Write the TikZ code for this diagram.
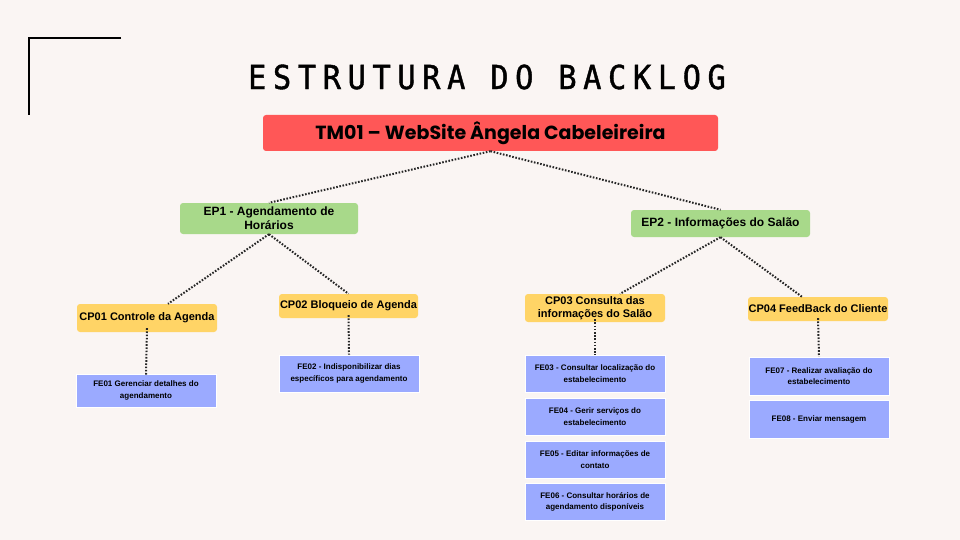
\documentclass[tikz,border=0pt]{standalone}
\usepackage{fontspec}
\setmainfont{Liberation Sans}
\newfontfamily\titlefont{DejaVu Sans Mono}[FakeStretch=0.92,LetterSpace=20,FakeBold=1.2]
\newfontfamily\topfont{Poppins}
\definecolor{bgc}{HTML}{FAF5F3}
\definecolor{redc}{HTML}{FF5757}
\definecolor{greenc}{HTML}{A8D98A}
\definecolor{yellowc}{HTML}{FFD466}
\definecolor{bluec}{HTML}{9BAAFF}
\begin{document}
\begin{tikzpicture}[x=1pt,y=-1pt,
  box/.style={draw=none,rounded corners=3pt,inner sep=0pt,align=center,text=black},
  epbox/.style={box,fill=greenc,font=\bfseries\fontsize{12}{14}\selectfont},
  cpbox/.style={box,fill=yellowc,font=\bfseries\fontsize{11}{13.5}\selectfont},
  febox/.style={box,rounded corners=0pt,fill=bluec,draw=white,line width=0.8pt,font=\bfseries\fontsize{8}{11.5}\selectfont},
  link/.style={line width=2pt,dash pattern=on 1.6pt off 1.6pt,black!85}]
\fill[bgc] (0,0) rectangle (960,540);
\useasboundingbox (0,0) rectangle (960,540);
\draw[line width=2pt] (121,38) -- (29,38) -- (29,115);
\node[font=\titlefont\fontsize{33}{33}\selectfont] (title) at (487,77) {ESTRUTURA DO BACKLOG};
\node[box,fill=redc,minimum width=455,minimum height=36,font=\topfont\bfseries\fontsize{19}{22}\selectfont] (tm) at (490.5,133) {TM01 – WebSite Ângela Cabeleireira};
\node[epbox,minimum width=178,minimum height=31] (ep1) at (269,218.5) {EP1 - Agendamento de\\Horários};
\node[epbox,minimum width=179,minimum height=27] (ep2) at (720.5,223.5) {EP2 - Informações do Salão};
\node[cpbox,minimum width=140,minimum height=28] (cp1) at (147,318) {CP01 Controle da Agenda};
\node[cpbox,minimum width=139,minimum height=24] (cp2) at (348.5,306) {CP02 Bloqueio de Agenda};
\node[cpbox,minimum width=140,minimum height=28] (cp3) at (595,308) {CP03 Consulta das\\informações do Salão};
\node[cpbox,minimum width=140,minimum height=24] (cp4) at (818,309) {CP04 FeedBack do Cliente};
\node[febox,minimum width=140,minimum height=33] (fe1) at (146,390.5) {FE01 Gerenciar detalhes do\\agendamento};
\node[febox,minimum width=140,minimum height=37] (fe2) at (349,373.5) {FE02 - Indisponibilizar dias\\específicos para agendamento};
\node[febox,minimum width=140,minimum height=37] (fe3) at (595,373.5) {FE03 - Consultar localização do\\estabelecimento};
\node[febox,minimum width=140,minimum height=37] (fe4) at (595,416.5) {FE04 - Gerir serviços do\\estabelecimento};
\node[febox,minimum width=140,minimum height=37] (fe5) at (595,459.5) {FE05 - Editar informações de\\contato};
\node[febox,minimum width=140,minimum height=37] (fe6) at (595,502) {FE06 - Consultar horários de\\agendamento disponíveis};
\node[febox,minimum width=140,minimum height=38] (fe7) at (819,376) {FE07 - Realizar avaliação do\\estabelecimento};
\node[febox,minimum width=140,minimum height=38] (fe8) at (819,419) {FE08 - Enviar mensagem};
\draw[link] (tm.south) -- (ep1.north);
\draw[link] (tm.south) -- (ep2.north);
\draw[link] (ep1.south) -- ([xshift=21]cp1.north);
\draw[link] (ep1.south) -- (cp2.north);
\draw[link] (ep2.south) -- ([xshift=25]cp3.north);
\draw[link] (ep2.south) -- ([xshift=-16]cp4.north);
\draw[link] ([yshift=4]cp1.south) -- ([yshift=-1]fe1.north);
\draw[link] ([yshift=3]cp2.south) -- (fe2.north);
\draw[link] ([yshift=3]cp3.south) -- (fe3.north);
\draw[link] ([yshift=3]cp4.south) -- (fe7.north);
\end{tikzpicture}
\end{document}
